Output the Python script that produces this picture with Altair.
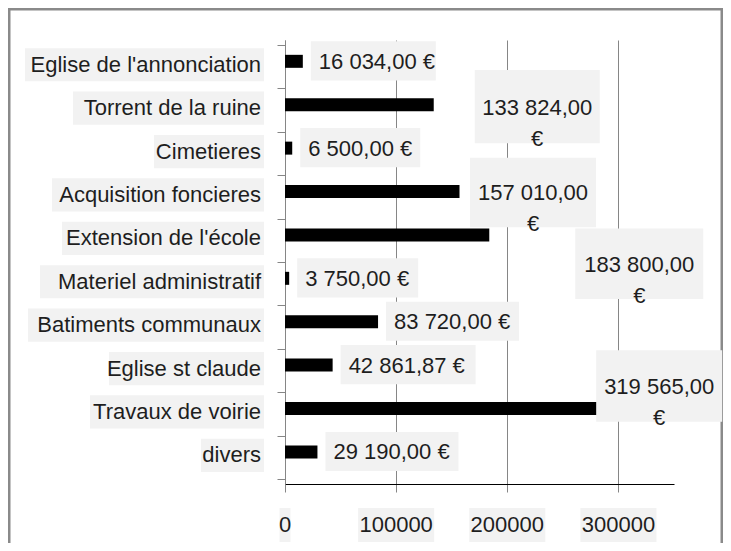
import altair as alt
import pandas as pd

# ---------------- data ----------------
categories = [
    "Eglise de l'annonciation",
    "Torrent de la ruine",
    "Cimetieres",
    "Acquisition foncieres",
    "Extension de l'école",
    "Materiel administratif",
    "Batiments communaux",
    "Eglise st claude",
    "Travaux de voirie",
    "divers",
]
amounts = [16034.00, 133824.00, 6500.00, 157010.00, 183800.00,
           3750.00, 83720.00, 42861.87, 319565.00, 29190.00]
x_ticks = [0, 100000, 200000, 300000]
x_max = 350000

# ---------------- layout (pixels) ----------------
W, H = 389, 444
PAD_L, PAD_T = 277, 32
CANVAS_W, CANVAS_H = 715, 535
PX_X = x_max / W               # data units per pixel (x)
N = len(categories)
PX_Y = N / H                   # data units per pixel (y)

BAR_SHIFT = -5.5               # bars sit slightly above the row centre
wrapped = [False, True, False, True, True, False, False, False, True, False]
box_dx = [8, 41, 8, 10.5, 86, 8, 8, 8, -44, 8]       # box left relative to bar end
box_w = [125, 125, 120, 126, 128, 121, 133, 135, 126, 133]
box_top = [-26, -41, -26, -40, -12, -26, -26, -26, -65, -26]
box_bot = [14, 34, 14, 31, 60, 14, 14, 14, 8, 14]
cat_box_left = [-260, -212, -131, -233, -223, -245, -257, -176, -195, -84]
cat_box_right = -21

TXT = "#1e1e1e"
BOX = "#f2f2f2"
GRAY = "#868686"
FONT = "Liberation Sans"
FS = 22


def fr(v):
    s = f"{v:,.2f}"
    return s.replace(",", " ").replace(".", ",")


rows = []
for i, (c, v) in enumerate(zip(categories, amounts)):
    yc = i + 0.5
    bx1 = v + box_dx[i] * PX_X
    bx2 = bx1 + box_w[i] * PX_X
    by1 = yc + box_top[i] * PX_Y
    by2 = yc + box_bot[i] * PX_Y
    if wrapped[i]:
        label = fr(v) + "\n€"
        tx = (bx1 + bx2) / 2
    else:
        label = fr(v) + " €"
        tx = bx1 + 8 * PX_X
    rows.append(dict(cat=c, amount=v, yc=yc, ybar=yc + BAR_SHIFT * PX_Y,
                     label=label, wrap=wrapped[i],
                     bx1=bx1, bx2=bx2, by1=by1, by2=by2, tx=tx,
                     ty=(by1 + by2) / 2 + 1 * PX_Y,
                     cbx1=cat_box_left[i] * PX_X, cbx2=cat_box_right * PX_X,
                     cby1=yc - 19 * PX_Y, cby2=yc + 15 * PX_Y,
                     cty=yc - 2 * PX_Y))
df = pd.DataFrame(rows)

tick_rows = []
for t in x_ticks:
    s = str(t)
    hw = 6.5 * len(s) - 1
    tick_rows.append(dict(t=t, s=s, t1=t - hw * PX_X, t2=t + hw * PX_X))
tdf = pd.DataFrame(tick_rows)

xscale = alt.Scale(domain=[0, x_max], nice=False, zero=False)
yscale = alt.Scale(domain=[0, N], nice=False, zero=False, reverse=True)
xaxis = alt.Axis(values=x_ticks, labels=False, title=None, grid=True,
                 gridColor=GRAY, gridWidth=1, domainColor="#000000",
                 tickColor=GRAY, tickSize=8)
yaxis = alt.Axis(values=list(range(N + 1)), labels=False, title=None,
                 grid=False, domainColor=GRAY, tickColor=GRAY, tickSize=8)


def X(f):
    return alt.X(f, type="quantitative", scale=xscale, axis=xaxis)


def Y(f):
    return alt.Y(f, type="quantitative", scale=yscale, axis=yaxis)


base = alt.Chart(df)

frame = alt.Chart(pd.DataFrame({"a": [0]})).mark_rect(
    fillOpacity=0, stroke="#8a8a8a", strokeWidth=3
).encode(
    x=alt.value(1 - PAD_L), x2=alt.value(CANVAS_W - 1 - PAD_L),
    y=alt.value(1 - PAD_T), y2=alt.value(CANVAS_H + 40),
)

bars = base.mark_bar(orient="horizontal", size=13, color="#000000").encode(
    x=X("amount"), y=Y("ybar")
)

cat_boxes = base.mark_rect(color=BOX).encode(
    x=X("cbx1"), x2="cbx2", y=Y("cby1"), y2="cby2"
)
cat_text = base.mark_text(align="right", baseline="middle", font=FONT,
                          fontSize=FS, color=TXT).encode(
    x=alt.value(-24), y=Y("cty"), text="cat:N"
)

val_boxes = base.mark_rect(color=BOX).encode(
    x=X("bx1"), x2="bx2", y=Y("by1"), y2="by2"
)
val_single = base.transform_filter("!datum.wrap").mark_text(
    align="left", baseline="middle", font=FONT, fontSize=FS, color=TXT
).encode(x=X("tx"), y=Y("ty"), text="label:N")
val_wrap = base.transform_filter("datum.wrap").mark_text(
    align="center", baseline="middle", font=FONT, fontSize=FS, color=TXT,
    lineBreak="\n", lineHeight=31
).encode(x=X("tx"), y=Y("ty"), text="label:N")

tbase = alt.Chart(tdf)
tick_boxes = tbase.mark_rect(color=BOX).encode(
    x=X("t1"), x2="t2", y=alt.value(468), y2=alt.value(502)
)
tick_text = tbase.mark_text(align="center", baseline="middle", font=FONT,
                            fontSize=FS, color=TXT).encode(
    x=X("t"), y=alt.value(485), text="s:N"
)

chart = alt.layer(
    frame, bars, cat_boxes, cat_text, val_boxes, val_single, val_wrap,
    tick_boxes, tick_text
).properties(
    width=W, height=H,
    autosize=alt.AutoSizeParams(type="none"),
    padding={"left": PAD_L, "top": PAD_T, "right": CANVAS_W - PAD_L - W,
             "bottom": CANVAS_H - PAD_T - H},
    background="#ffffff",
).configure_view(stroke=None)

chart.save("out.html", embed_options={"renderer": "svg", "actions": False})
